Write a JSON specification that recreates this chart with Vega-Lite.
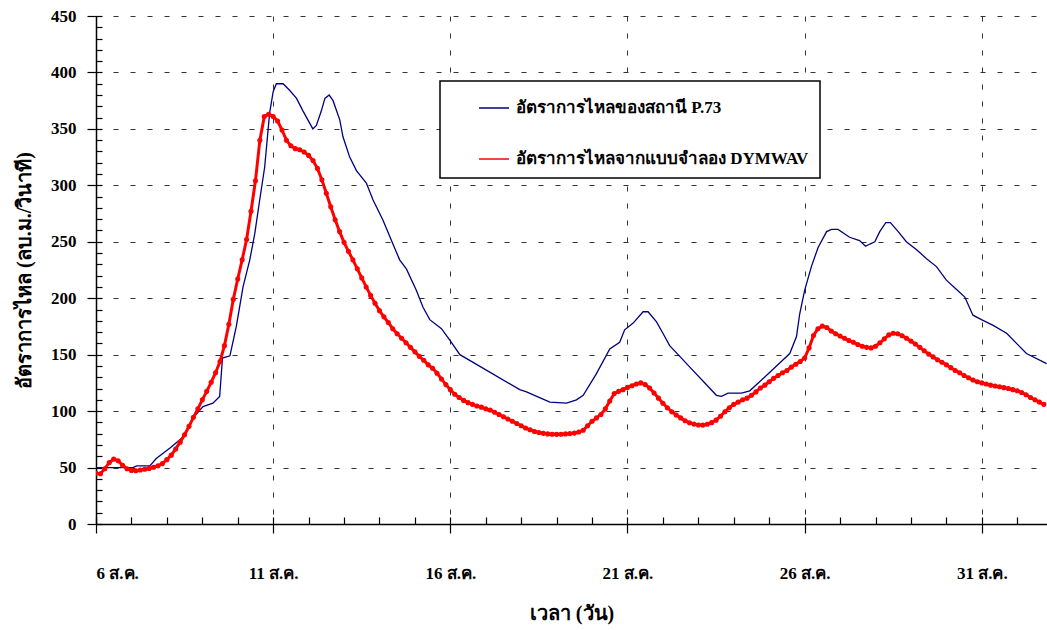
{
  "$schema": "https://vega.github.io/schema/vega-lite/v6.json",
  "width": 951,
  "height": 508,
  "autosize": "none",
  "padding": {"left": 96, "top": 16, "right": 0, "bottom": 106},
  "background": "white",
  "config": {
    "view": {"stroke": null},
    "axis": {
      "labelFont": "Liberation Serif",
      "labelFontWeight": "bold",
      "labelFontSize": 17,
      "labelColor": "black",
      "titleFont": "Liberation Serif",
      "titleFontWeight": "bold",
      "titleFontSize": 20,
      "titleColor": "black",
      "domainColor": "black",
      "domainWidth": 1.5,
      "tickColor": "black",
      "tickWidth": 1.2,
      "gridColor": "#333333",
      "gridDash": [5, 12],
      "gridWidth": 1
    },
    "legend": {
      "labelFont": "Liberation Serif",
      "labelFontWeight": "bold",
      "labelFontSize": 17,
      "labelColor": "black",
      "symbolType": "stroke",
      "symbolStrokeWidth": 1.5,
      "symbolSize": 900,
      "labelOffset": 6,
      "symbolOffset": 27,
      "rowPadding": 27,
      "padding": 11,
      "fillColor": "white",
      "strokeColor": "black",
      "strokeWidth": 1.5,
      "labelLimit": 500
    }
  },
  "datasets": {
    "observed": [
      {"d":0,"q":50},{"d":1.04,"q":50},{"d":1.15,"q":51.5},{"d":1.52,"q":51.5},{"d":1.7,"q":58},{"d":2.08,"q":67},{"d":2.46,"q":77},{"d":2.74,"q":94},{"d":3.02,"q":104},{"d":3.3,"q":107},{"d":3.49,"q":113},{"d":3.57,"q":147},{"d":3.78,"q":149},{"d":3.96,"q":175},{"d":4.15,"q":210},{"d":4.34,"q":234},{"d":4.48,"q":257},{"d":4.62,"q":287},{"d":4.76,"q":316},{"d":4.9,"q":364},{"d":5.0,"q":383},{"d":5.09,"q":390},{"d":5.28,"q":390},{"d":5.47,"q":384},{"d":5.66,"q":377},{"d":5.84,"q":366},{"d":5.98,"q":358},{"d":6.12,"q":350},{"d":6.22,"q":353},{"d":6.36,"q":366},{"d":6.46,"q":377},{"d":6.58,"q":380},{"d":6.69,"q":375},{"d":6.88,"q":358},{"d":6.97,"q":343},{"d":7.16,"q":325},{"d":7.35,"q":313},{"d":7.63,"q":302},{"d":7.82,"q":287},{"d":8.1,"q":269},{"d":8.38,"q":248},{"d":8.57,"q":234},{"d":8.76,"q":226},{"d":9.04,"q":207},{"d":9.23,"q":192},{"d":9.42,"q":181},{"d":9.75,"q":173},{"d":9.98,"q":163},{"d":10.27,"q":150},{"d":11.96,"q":119},{"d":12.15,"q":117},{"d":12.52,"q":112},{"d":12.81,"q":108},{"d":13.28,"q":107},{"d":13.56,"q":110},{"d":13.75,"q":114},{"d":14.12,"q":133},{"d":14.5,"q":155},{"d":14.78,"q":161},{"d":14.92,"q":172},{"d":15.16,"q":178},{"d":15.44,"q":188},{"d":15.58,"q":188},{"d":15.82,"q":179},{"d":16.0,"q":169},{"d":16.19,"q":158},{"d":16.43,"q":150},{"d":16.76,"q":139},{"d":17.51,"q":114},{"d":17.65,"q":113},{"d":17.84,"q":116},{"d":18.22,"q":116},{"d":18.45,"q":118},{"d":18.73,"q":126},{"d":19.58,"q":151},{"d":19.77,"q":166},{"d":19.86,"q":186},{"d":20.0,"q":207},{"d":20.19,"q":228},{"d":20.38,"q":245},{"d":20.62,"q":259},{"d":20.76,"q":261},{"d":20.94,"q":261},{"d":21.27,"q":254},{"d":21.55,"q":251},{"d":21.72,"q":246},{"d":21.84,"q":248},{"d":21.98,"q":250},{"d":22.12,"q":259},{"d":22.29,"q":267},{"d":22.42,"q":267},{"d":22.64,"q":259},{"d":22.87,"q":250},{"d":23.16,"q":243},{"d":23.44,"q":235},{"d":23.72,"q":228},{"d":24.0,"q":216},{"d":24.28,"q":208},{"d":24.52,"q":201},{"d":24.75,"q":185},{"d":24.99,"q":181},{"d":25.32,"q":176},{"d":25.7,"q":169},{"d":25.98,"q":160},{"d":26.26,"q":151},{"d":26.83,"q":142}
    ],
    "model": [
      {"d":0,"q":45},{"d":0.125,"q":44.5},{"d":0.25,"q":49},{"d":0.375,"q":54.5},{"d":0.5,"q":57.5},{"d":0.625,"q":56},{"d":0.75,"q":52},{"d":0.875,"q":49},
      {"d":1,"q":47.5},{"d":1.125,"q":47.2},{"d":1.25,"q":47.8},{"d":1.375,"q":48.5},{"d":1.5,"q":49.2},{"d":1.625,"q":50.3},{"d":1.75,"q":51.5},{"d":1.875,"q":53.5},
      {"d":2,"q":57},{"d":2.125,"q":61},{"d":2.25,"q":66.5},{"d":2.375,"q":72.5},{"d":2.5,"q":79},{"d":2.625,"q":86.5},{"d":2.75,"q":94.5},{"d":2.875,"q":102},
      {"d":3,"q":110},{"d":3.125,"q":117.5},{"d":3.25,"q":125.5},{"d":3.375,"q":134},{"d":3.5,"q":144},{"d":3.625,"q":158},{"d":3.75,"q":177},{"d":3.875,"q":199},
      {"d":4,"q":217},{"d":4.125,"q":234},{"d":4.25,"q":252},{"d":4.375,"q":277},{"d":4.5,"q":304},{"d":4.625,"q":340},{"d":4.75,"q":361},{"d":4.875,"q":363},
      {"d":5,"q":361},{"d":5.125,"q":357},{"d":5.25,"q":349},{"d":5.375,"q":340},{"d":5.5,"q":335},{"d":5.625,"q":332.5},{"d":5.75,"q":331.5},{"d":5.875,"q":329.5},
      {"d":6,"q":326.5},{"d":6.125,"q":322},{"d":6.25,"q":315},{"d":6.375,"q":305},{"d":6.5,"q":293},{"d":6.625,"q":281},{"d":6.75,"q":269.5},{"d":6.875,"q":259},
      {"d":7,"q":249.5},{"d":7.125,"q":241.5},{"d":7.25,"q":234},{"d":7.375,"q":226},{"d":7.5,"q":218},{"d":7.625,"q":210},{"d":7.75,"q":202.5},{"d":7.875,"q":195.5},
      {"d":8,"q":189},{"d":8.125,"q":183.5},{"d":8.25,"q":178.5},{"d":8.375,"q":173},{"d":8.5,"q":168.5},{"d":8.625,"q":164.5},{"d":8.75,"q":160.5},{"d":8.875,"q":156.5},
      {"d":9,"q":152.5},{"d":9.125,"q":148.5},{"d":9.25,"q":145},{"d":9.375,"q":141},{"d":9.5,"q":138},{"d":9.625,"q":133.5},{"d":9.75,"q":128.5},{"d":9.875,"q":123.5},
      {"d":10,"q":119},{"d":10.125,"q":115},{"d":10.25,"q":112},{"d":10.375,"q":109.5},{"d":10.5,"q":107.5},{"d":10.625,"q":106},{"d":10.75,"q":104.5},{"d":10.875,"q":103.5},
      {"d":11,"q":102},{"d":11.125,"q":101},{"d":11.25,"q":99},{"d":11.375,"q":97},{"d":11.5,"q":95},{"d":11.625,"q":93},{"d":11.75,"q":91},{"d":11.875,"q":89},
      {"d":12,"q":87},{"d":12.125,"q":85},{"d":12.25,"q":83.5},{"d":12.375,"q":82},{"d":12.5,"q":81},{"d":12.625,"q":80.3},{"d":12.75,"q":79.8},{"d":12.875,"q":79.5},
      {"d":13,"q":79.4},{"d":13.125,"q":79.5},{"d":13.25,"q":79.8},{"d":13.375,"q":80.1},{"d":13.5,"q":80.5},{"d":13.625,"q":81.5},{"d":13.75,"q":83},{"d":13.875,"q":87},
      {"d":14,"q":91},{"d":14.125,"q":94},{"d":14.25,"q":97},{"d":14.375,"q":102},{"d":14.5,"q":109},{"d":14.625,"q":115.5},{"d":14.75,"q":117.5},{"d":14.875,"q":119},
      {"d":15,"q":121},{"d":15.125,"q":122.5},{"d":15.25,"q":124},{"d":15.375,"q":125},{"d":15.5,"q":123.5},{"d":15.625,"q":120.5},{"d":15.75,"q":116},{"d":15.875,"q":111.5},
      {"d":16,"q":107},{"d":16.125,"q":103},{"d":16.25,"q":99.5},{"d":16.375,"q":96.5},{"d":16.5,"q":94},{"d":16.625,"q":91.5},{"d":16.75,"q":89.7},{"d":16.875,"q":88.5},
      {"d":17,"q":87.7},{"d":17.125,"q":87.6},{"d":17.25,"q":88.3},{"d":17.375,"q":89.8},{"d":17.5,"q":92},{"d":17.625,"q":95.5},{"d":17.75,"q":99.5},{"d":17.875,"q":103},
      {"d":18,"q":106},{"d":18.125,"q":108},{"d":18.25,"q":110},{"d":18.375,"q":111.5},{"d":18.5,"q":114},{"d":18.625,"q":117},{"d":18.75,"q":120.5},{"d":18.875,"q":123},
      {"d":19,"q":126},{"d":19.125,"q":129},{"d":19.25,"q":131.5},{"d":19.375,"q":134},{"d":19.5,"q":136},{"d":19.625,"q":139},{"d":19.75,"q":141.5},{"d":19.875,"q":144},
      {"d":20,"q":147},{"d":20.125,"q":156},{"d":20.25,"q":167},{"d":20.375,"q":173},{"d":20.5,"q":175.3},{"d":20.625,"q":174},{"d":20.75,"q":171},{"d":20.875,"q":168.5},
      {"d":21,"q":166.5},{"d":21.125,"q":164.5},{"d":21.25,"q":162.5},{"d":21.375,"q":161},{"d":21.5,"q":159},{"d":21.625,"q":157.5},{"d":21.75,"q":156.5},{"d":21.875,"q":156},
      {"d":22,"q":157.5},{"d":22.125,"q":160.5},{"d":22.25,"q":164},{"d":22.375,"q":167.5},{"d":22.5,"q":169},{"d":22.625,"q":168.5},{"d":22.75,"q":166.8},{"d":22.875,"q":164.5},
      {"d":23,"q":162},{"d":23.125,"q":159.5},{"d":23.25,"q":156.5},{"d":23.375,"q":153.5},{"d":23.5,"q":150.5},{"d":23.625,"q":148},{"d":23.75,"q":145.5},{"d":23.875,"q":143.3},
      {"d":24,"q":141},{"d":24.125,"q":138.5},{"d":24.25,"q":136},{"d":24.375,"q":134},{"d":24.5,"q":131.5},{"d":24.625,"q":129.5},{"d":24.75,"q":127.5},{"d":24.875,"q":126},
      {"d":25,"q":125},{"d":25.125,"q":124},{"d":25.25,"q":123},{"d":25.375,"q":122.3},{"d":25.5,"q":121.6},{"d":25.625,"q":120.8},{"d":25.75,"q":120},{"d":25.875,"q":119},
      {"d":26,"q":118},{"d":26.125,"q":116.5},{"d":26.25,"q":114.5},{"d":26.375,"q":112},{"d":26.5,"q":110},{"d":26.625,"q":108},{"d":26.75,"q":106}
    ]
  },
  "layer": [
    {
      "data": {"name": "observed"},
      "mark": {"type": "line", "strokeWidth": 1.3, "clip": true},
      "encoding": {
        "x": {
          "field": "d", "type": "quantitative",
          "scale": {"domain": [0, 26.84], "nice": false, "zero": false},
          "axis": {
            "orient": "bottom",
            "values": [0, 5, 10, 15, 20, 25],
            "labelExpr": "(datum.value + 6) + ' ส.ค.'",
            "tickSize": 9,
            "grid": true,
            "labelPadding": 32,
            "title": "เวลา (วัน)",
            "titlePadding": 22
          }
        },
        "y": {
          "field": "q", "type": "quantitative",
          "scale": {"domain": [0, 450], "nice": false},
          "axis": {
            "orient": "left",
            "values": [0, 50, 100, 150, 200, 250, 300, 350, 400, 450],
            "tickSize": 9,
            "grid": true,
            "labelPadding": 11,
            "title": "อัตราการไหล (ลบ.ม./วินาที)",
            "titlePadding": 16
          }
        },
        "color": {
          "datum": "อัตราการไหลของสถานี P.73",
          "type": "nominal",
          "scale": {
            "domain": ["อัตราการไหลของสถานี P.73", "อัตราการไหลจากแบบจำลอง DYMWAV"],
            "range": ["#000080", "#ff0000"]
          },
          "legend": {"title": null, "orient": "none", "legendX": 344, "legendY": 65}
        }
      }
    },
    {
      "data": {"name": "model"},
      "mark": {"type": "line", "strokeWidth": 3, "clip": true},
      "encoding": {
        "x": {
          "field": "d", "type": "quantitative",
          "axis": {
            "orient": "bottom",
            "values": [0,1,2,3,4,5,6,7,8,9,10,11,12,13,14,15,16,17,18,19,20,21,22,23,24,25,26],
            "tickSize": -7,
            "labels": false,
            "domain": false,
            "grid": false,
            "title": null
          }
        },
        "y": {
          "field": "q", "type": "quantitative",
          "axis": {
            "orient": "left",
            "values": [0,10,20,30,40,50,60,70,80,90,100,110,120,130,140,150,160,170,180,190,200,210,220,230,240,250,260,270,280,290,300,310,320,330,340,350,360,370,380,390,400,410,420,430,440,450],
            "tickSize": -6,
            "labels": false,
            "domain": false,
            "grid": false,
            "title": null
          }
        },
        "color": {"datum": "อัตราการไหลจากแบบจำลอง DYMWAV", "type": "nominal"}
      }
    },
    {
      "data": {"name": "model"},
      "mark": {"type": "point", "filled": true, "size": 26, "opacity": 1, "color": "#ff0000", "clip": true},
      "encoding": {
        "x": {"field": "d", "type": "quantitative", "axis": null},
        "y": {"field": "q", "type": "quantitative", "axis": null}
      }
    },
    {
      "mark": {"type": "rule", "color": "#888888", "strokeWidth": 1.2},
      "encoding": {"y": {"datum": 450, "axis": null}}
    }
  ],
  "resolve": {"axis": {"x": "independent", "y": "independent"}}
}
